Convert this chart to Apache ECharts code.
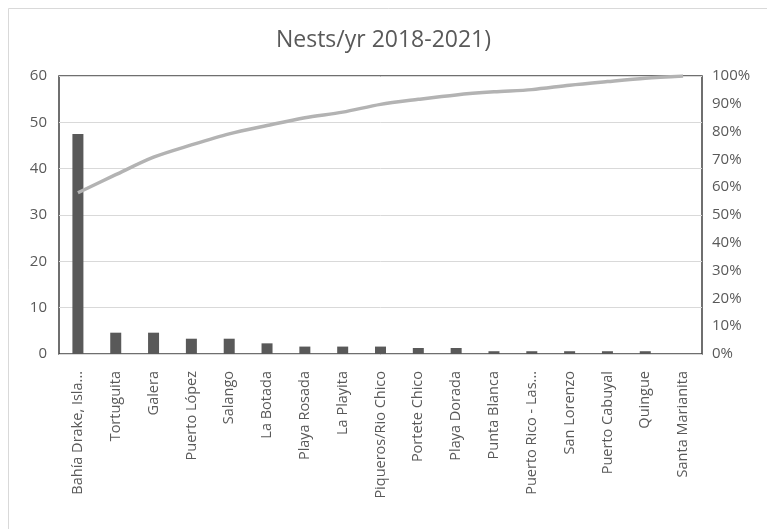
<!DOCTYPE html>
<html>
<head>
<meta charset="utf-8">
<script src="https://cdn.jsdelivr.net/npm/echarts@6/dist/echarts.min.js"></script>
<style>
html,body{margin:0;padding:0;background:#fff;}
#chart{width:767px;height:529px;}
</style>
</head>
<body>
<div id="chart"></div>
<script>
const categories = ["Bahía Drake, Isla...", "Tortuguita", "Galera", "Puerto López", "Salango", "La Botada", "Playa Rosada", "La Playita", "Piqueros/Rio Chico", "Portete Chico", "Playa Dorada", "Punta Blanca", "Puerto Rico - Las...", "San Lorenzo", "Puerto Cabuyal", "Quingue", "Santa Marianita"];
const nestsPerYear = [47.5, 4.6, 4.6, 3.3, 3.3, 2.3, 1.6, 1.6, 1.6, 1.3, 1.3, 0.6, 0.6, 0.6, 0.6, 0.6, 0];
const cumulativePct = [58, 64.5, 70.8, 75.2, 79.2, 82.2, 85, 87, 89.8, 91.6, 93.2, 94.3, 95.1, 96.7, 98, 99.2, 100];
const leftTicks = [0, 10, 20, 30, 40, 50, 60];
const rightTicks = [0, 10, 20, 30, 40, 50, 60, 70, 80, 90, 100];

const chart = echarts.init(document.getElementById('chart'));
const txt = '#595959';
const font = '"Open Sans", "DejaVu Sans", sans-serif';
chart.setOption({
  animation: false,
  backgroundColor: '#fff',
  textStyle: {fontFamily: font},
  title: {
    text: 'Nests/yr 2018-2021)',
    left: 'center', top: 24,
    textStyle: {fontSize: 23, fontWeight: 'normal', color: txt, fontFamily: font}
  },
  graphic: [{
    type: 'rect', left: 6, top: 6, silent: true,
    shape: {width: 775, height: 522},
    style: {fill: 'none', stroke: '#d9d9d9', lineWidth: 1}
  }],
  grid: {left: 59, right: 65, top: 76, bottom: 175, show: true, borderColor: '#404040', borderWidth: 1.5, containLabel: false},
  xAxis: {
    type: 'category', data: categories,
    axisLine: {show: false}, axisTick: {show: false},
    axisLabel: {rotate: 90, color: txt, fontSize: 14.5, margin: 17, interval: 0, fontFamily: font}
  },
  yAxis: [{
    type: 'value', min: leftTicks[0], max: leftTicks[leftTicks.length-1], interval: 10,
    axisLine: {show: false}, axisTick: {show: false},
    axisLabel: {color: txt, fontSize: 15, margin: 12, fontFamily: font},
    splitLine: {lineStyle: {color: '#d9d9d9', width: 1}}
  }, {
    type: 'value', min: rightTicks[0], max: rightTicks[rightTicks.length-1], interval: 10,
    axisLine: {show: false}, axisTick: {show: false},
    axisLabel: {color: txt, fontSize: 15, margin: 10, formatter: '{value}%', fontFamily: font},
    splitLine: {show: false}
  }],
  series: [{
    type: 'bar', data: nestsPerYear, barWidth: 11, yAxisIndex: 0,
    itemStyle: {color: '#595959'}
  }, {
    type: 'line', data: cumulativePct, yAxisIndex: 1, smooth: 0.3,
    symbol: 'none', lineStyle: {color: '#b3b3b3', width: 3.5}
  }]
});
</script>
</body>
</html>
